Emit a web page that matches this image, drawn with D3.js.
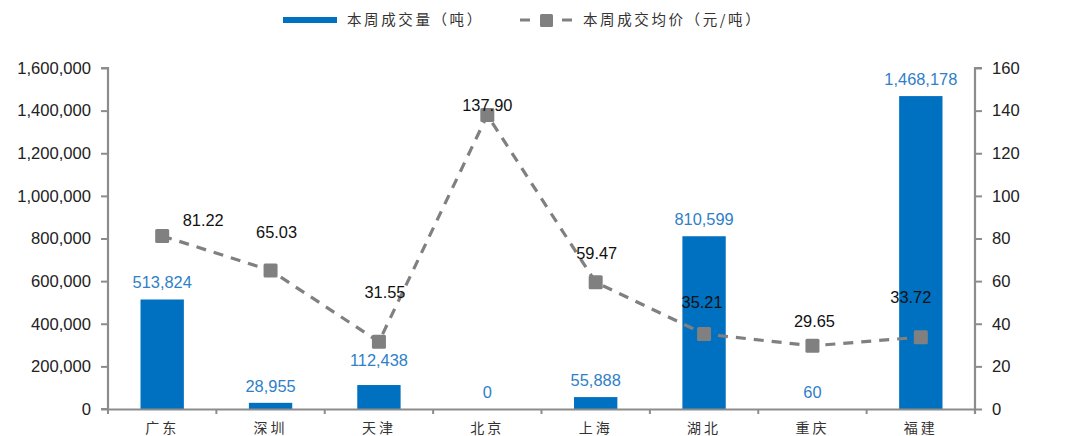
<!DOCTYPE html>
<html>
<head>
<meta charset="utf-8">
<script src="https://cdn.jsdelivr.net/npm/d3@7/dist/d3.min.js"></script>
<style>
  html, body { margin: 0; padding: 0; background: #fff; }
  svg { display: block; }
  .num { font-family: "Liberation Sans", Arial, sans-serif; }
  .cjk { font-family: "Noto Sans CJK SC", sans-serif; }
</style>
</head>
<body>
<svg id="chart" width="1065" height="436"></svg>
<script>
// Weekly carbon market figures by pilot region
const categories = ["广东", "深圳", "天津", "北京", "上海", "湖北", "重庆", "福建"];
const volume = [513824, 28955, 112438, 0, 55888, 810599, 60, 1468178];   // 本周成交量（吨）
const price = [81.22, 65.03, 31.55, 137.90, 59.47, 35.21, 29.65, 33.72];   // 本周成交均价（元/吨）
const leftTicks = [0, 200000, 400000, 600000, 800000, 1000000, 1200000, 1400000, 1600000];
const rightTicks = [0, 20, 40, 60, 80, 100, 120, 140, 160];
const seriesNames = ["本周成交量（吨）", "本周成交均价（元/吨）"];

// label nudges (px) for the price labels, relative to each marker
const priceLabelNudge = [[41, -16], [6, -38], [6, -50], [0, -10], [1, -29], [-2, -32], [2, -25], [-10, -40]];
// extra vertical nudge for volume labels
const volumeLabelNudge = [0, 0, -8, 0, 0, 0, 0, 0];

const svg = d3.select("#chart");
const m = { left: 108, right: 975, top: 68, bottom: 409 };
const axisColor = "#8c8c8c";
const barColor = "#0070C0";
const labelBlue = "#2F80C8";
const lineColor = "#808080";

const x = d3.scaleBand().domain(categories).range([m.left, m.right]).padding(0);
const yL = d3.scaleLinear().domain([0, 1600000]).range([m.bottom, m.top]);
const yR = d3.scaleLinear().domain([0, 160]).range([m.bottom, m.top]);
const barW = x.bandwidth() * 0.4;
const cx = d => x(d) + x.bandwidth() / 2;

// bars
svg.append("g").selectAll("rect").data(categories).join("rect")
  .attr("x", d => cx(d) - barW / 2)
  .attr("width", barW)
  .attr("y", (d, i) => yL(volume[i]))
  .attr("height", (d, i) => yL(0) - yL(volume[i]))
  .attr("fill", barColor);

// left axis
const gL = svg.append("g").attr("transform", `translate(${m.left},0)`)
  .call(d3.axisLeft(yL).tickValues(leftTicks).tickFormat(d3.format(",")).tickSize(7).tickPadding(10));
// right axis
const gR = svg.append("g").attr("transform", `translate(${m.right},0)`)
  .call(d3.axisRight(yR).tickValues(rightTicks).tickFormat(d3.format("d")).tickSize(7).tickPadding(10));
// bottom axis with ticks between categories
const gB = svg.append("g").attr("transform", `translate(0,${m.bottom})`)
  .call(d3.axisBottom(x).tickSize(0).tickPadding(14));
gB.selectAll(".tick").append("line")
  .attr("x1", -x.bandwidth() / 2).attr("x2", -x.bandwidth() / 2)
  .attr("y1", 0).attr("y2", 5)
  .attr("stroke", axisColor).attr("stroke-width", 2);
gB.select(".tick:last-of-type").append("line")
  .attr("x1", x.bandwidth() / 2).attr("x2", x.bandwidth() / 2)
  .attr("y1", 0).attr("y2", 5)
  .attr("stroke", axisColor).attr("stroke-width", 2);

[gL, gR, gB].forEach(g => {
  g.select(".domain").attr("stroke", axisColor).attr("stroke-width", 2.2);
  g.selectAll(".tick line").attr("stroke", axisColor).attr("stroke-width", 2);
});
[gL, gR].forEach(g => {
  g.selectAll(".tick text").attr("class", "num").attr("font-size", 16.6).attr("fill", "#222");
});
gL.select(".domain").attr("d", `M-7,${m.top}H0V${m.bottom}H-7`);
gR.select(".domain").attr("d", `M7,${m.top}H0V${m.bottom + 5}`);
gB.selectAll(".tick text").attr("class", "cjk").attr("font-size", 14)
  .attr("fill", "#333").attr("letter-spacing", 3);

// volume labels
svg.append("g").selectAll("text").data(categories).join("text")
  .attr("class", "num")
  .attr("x", d => cx(d))
  .attr("y", (d, i) => yL(volume[i]) - 11 + volumeLabelNudge[i])
  .attr("text-anchor", "middle")
  .attr("font-size", 16.4)
  .attr("fill", labelBlue)
  .text((d, i) => d3.format(",")(volume[i]));

// price line
const line = d3.line().x(d => cx(d)).y((d, i) => yR(price[i]));
svg.append("path").datum(categories)
  .attr("d", line)
  .attr("fill", "none")
  .attr("stroke", lineColor)
  .attr("stroke-width", 3.2)
  .attr("stroke-dasharray", "10,8");

// markers
const ms = 14;
svg.append("g").selectAll("rect").data(categories).join("rect")
  .attr("x", d => cx(d) - ms / 2)
  .attr("y", (d, i) => yR(price[i]) - ms / 2)
  .attr("width", ms).attr("height", ms).attr("rx", 1.5)
  .attr("fill", lineColor);

// price labels
svg.append("g").selectAll("text").data(categories).join("text")
  .attr("class", "num")
  .attr("x", (d, i) => cx(d) + priceLabelNudge[i][0])
  .attr("y", (d, i) => yR(price[i]) + priceLabelNudge[i][1] + 6)
  .attr("text-anchor", "middle")
  .attr("font-size", 16.4)
  .attr("fill", "#111")
  .text((d, i) => price[i].toFixed(2));

// legend
const lg = svg.append("g");
lg.append("line").attr("x1", 283).attr("x2", 337).attr("y1", 20).attr("y2", 20)
  .attr("stroke", barColor).attr("stroke-width", 6);
lg.append("text").attr("class", "cjk").attr("x", 347).attr("y", 25)
  .attr("font-size", 14.5).attr("letter-spacing", 2.6).attr("fill", "#333").text(seriesNames[0]);
lg.append("line").attr("x1", 520).attr("x2", 573).attr("y1", 20).attr("y2", 20)
  .attr("stroke", lineColor).attr("stroke-width", 3.2).attr("stroke-dasharray", "10,11");
lg.append("rect").attr("x", 540).attr("y", 14).attr("width", 13).attr("height", 13).attr("rx", 1.5)
  .attr("fill", lineColor);
lg.append("text").attr("class", "cjk").attr("x", 583).attr("y", 25)
  .attr("font-size", 14.5).attr("letter-spacing", 2.6).attr("fill", "#333").text(seriesNames[1]);
</script>
</body>
</html>
